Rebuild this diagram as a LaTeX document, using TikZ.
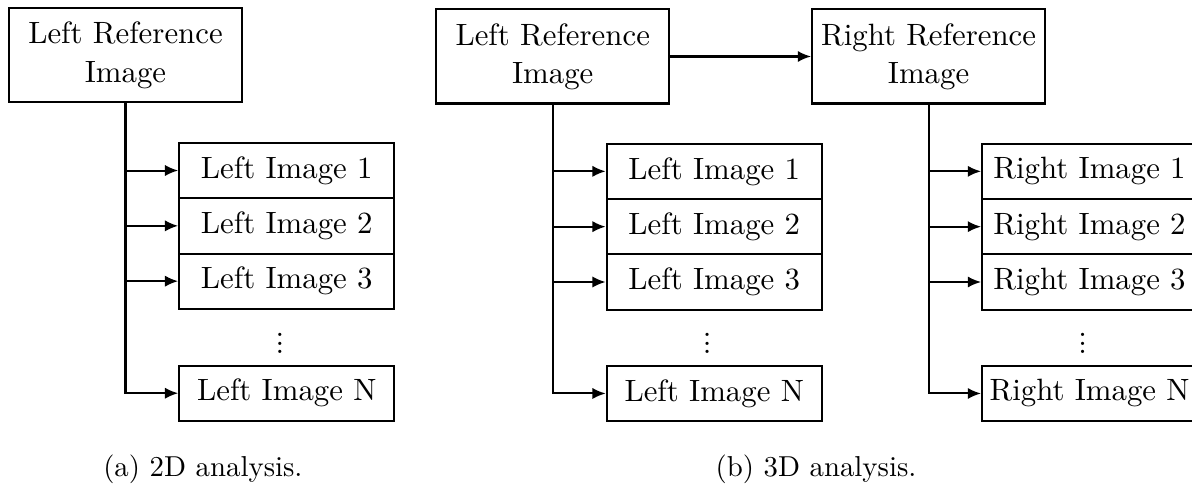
\documentclass[tikz,border=0pt]{standalone}
\usepackage{tikz}
\usetikzlibrary{positioning}
\usetikzlibrary{arrows.meta}

\newcommand{\colvdots}{\vbox{\baselineskip3pt\lineskiplimit0pt\kern3pt\hbox{.}\hbox{.}\hbox{.}}}

\begin{document}
\begin{tikzpicture}[
  refbox/.style={
    rectangle,
    draw,
    line width=0.7pt,
    minimum width=2.843cm,
    minimum height=1.147cm,
    inner sep=0pt,
    align=center,
    font=\fontsize{10.7}{13.3}\selectfont
  },
  imgbox/.style={
    rectangle,
    draw,
    line width=0.7pt,
    minimum width=2.623cm,
    minimum height=0.675cm,
    inner sep=0pt,
    font=\fontsize{10.7}{13.3}\selectfont
  },
  more/.style={inner sep=0pt, font=\fontsize{10.7}{13.3}\selectfont},
  subcap/.style={anchor=west, inner sep=0pt, font=\fontsize{10}{12}\selectfont},
  arr/.style={-{Latex[length=4.6pt,width=3.9pt]}, line width=0.7pt}
]
\useasboundingbox (0,0) rectangle (14.542,-5.990);

% (a) 2D analysis
\node[refbox] (refA) at (1.531, -0.675) {Left Reference\\Image};
\node[imgbox] (lA1) at (3.498, -2.080) {Left Image 1};
\node[imgbox] (lA2) at (3.498, -2.755) {Left Image 2};
\node[imgbox] (lA3) at (3.498, -3.430) {Left Image 3};
\node[more]   (dotsA) at (3.416, -4.136) {\colvdots};
\node[imgbox] (lAN) at (3.498, -4.797) {Left Image N};

\draw[arr] (refA.south) |- (lAN.west);
\draw[arr] (refA.south |- lA1) -- (lA1.west);
\draw[arr] (refA.south |- lA2) -- (lA2.west);
\draw[arr] (refA.south |- lA3) -- (lA3.west);

% (b) 3D analysis
\node[refbox] (refL) at (6.743, -0.689) {Left Reference\\Image};
\node[refbox] (refR) at (11.328, -0.689) {Right Reference\\Image};
\draw[arr] (refL.east) -- (refR.west);

\node[imgbox] (lB1) at (8.713, -2.090) {Left Image 1};
\node[imgbox] (lB2) at (8.713, -2.765) {Left Image 2};
\node[imgbox] (lB3) at (8.713, -3.440) {Left Image 3};
\node[more]   (dotsL) at (8.628, -4.140) {\colvdots};
\node[imgbox] (lBN) at (8.713, -4.800) {Left Image N};

\draw[arr] (refL.south) |- (lBN.west);
\draw[arr] (refL.south |- lB1) -- (lB1.west);
\draw[arr] (refL.south |- lB2) -- (lB2.west);
\draw[arr] (refL.south |- lB3) -- (lB3.west);

\node[imgbox] (rB1) at (13.292, -2.090) {Right Image 1};
\node[imgbox] (rB2) at (13.292, -2.765) {Right Image 2};
\node[imgbox] (rB3) at (13.292, -3.440) {Right Image 3};
\node[more]   (dotsR) at (13.209, -4.140) {\colvdots};
\node[imgbox] (rBN) at (13.292, -4.800) {Right Image N};

\draw[arr] (refR.south) |- (rBN.west);
\draw[arr] (refR.south |- rB1) -- (rB1.west);
\draw[arr] (refR.south |- rB2) -- (rB2.west);
\draw[arr] (refR.south |- rB3) -- (rB3.west);

% Captions
\node[subcap] (capA) at (1.253, -5.722) {(a) 2D analysis.};
\node[subcap] (capB) at (8.723, -5.722) {(b) 3D analysis.};

\end{tikzpicture}
\end{document}
